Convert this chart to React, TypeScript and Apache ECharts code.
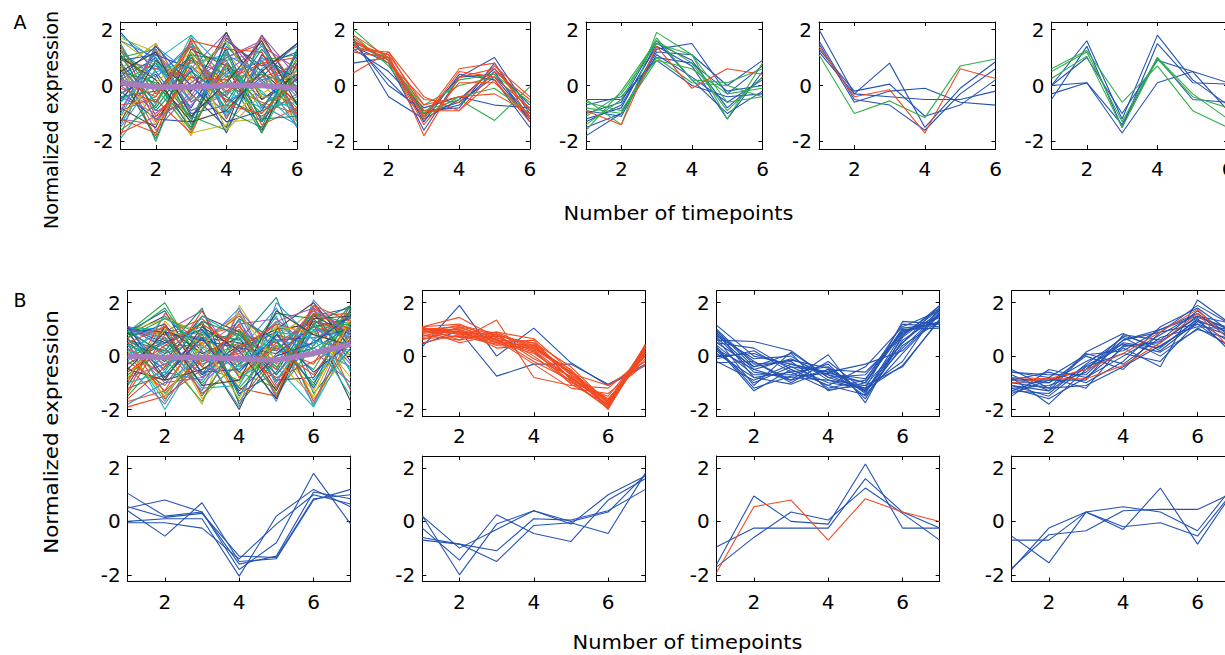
import React, { useEffect, useRef } from "react";
import * as echarts from "echarts";

// ---------- data ----------
const xA = [1, 2, 3, 4, 5, 6];
const xB = [1, 2, 3, 4, 5, 6, 7];
const xTicksA = [2, 4, 6];
const xTicksB = [2, 4, 6];
const yTicks = [-2, 0, 2];
const titleA = "A";
const titleB = "B";
const yName = "Normalized expression";
const xName = "Number of timepoints";

const BLUE = "#2453b3";
const RED = "#f24a22";
const GREEN = "#2fb04a";
const MEAN = "#a67cbf";
const MULTI = ["#2453c0", "#f0441e", "#2aa84a", "#19b4b8", "#9a5cb4", "#c9b51c", "#454545", "#118a70", "#3b8fd8", "#e0502a"];

// A1 – all genes
const a1Lines = [
  [1.9, 0.5, -1.2, 0.8, -0.5, 0.2], [-1.8, 1.5, -0.6, 0.3, 0.9, -1.0], [0.9, -2.0, 1.2, -0.3, 0.4, -0.8],
  [0.4, 0.9, 1.8, -1.0, 0.6, -1.2], [-1.2, -1.4, 0.6, 1.9, -0.8, 0.9], [1.2, 0.2, -1.8, 1.2, -0.4, -0.5],
  [-0.6, 1.2, -0.3, -1.5, 1.8, -0.3], [0.7, -0.8, 0.9, 0.4, -1.7, 1.0], [-1.5, 0.3, 1.4, -0.6, 0.2, 0.5],
  [1.5, -1.1, -0.5, 1.0, 1.5, -1.5], [0.2, 1.0, -1.0, -0.7, 0.3, 1.5], [-0.9, -0.4, 1.6, -1.2, 1.1, -0.2],
  [1.0, 1.3, -1.4, 0.2, -1.0, 0.4], [-1.9, -0.2, 0.5, 1.5, -0.3, -0.9], [0.6, -1.6, -0.2, 0.9, 1.2, -1.1],
  [1.6, 0.7, 0.2, -1.3, -1.2, 0.7], [-0.3, 0.4, -1.6, 1.7, 0.5, -0.6], [0.8, -0.6, 1.1, -0.9, -1.5, 1.3],
  [-1.1, 1.1, 0.0, 0.6, -0.7, -1.4], [1.3, -1.3, 0.7, -0.4, 1.7, -0.1], [-0.5, 0.8, -0.8, 1.3, -1.3, 0.3],
  [0.3, -1.8, 1.7, -0.1, 0.8, -0.7], [1.1, 0.0, -1.1, -1.6, 0.9, 1.1], [-1.4, 0.6, 0.8, 1.1, -0.9, -0.4],
  [0.0, -0.9, -0.7, 0.5, 1.4, 0.6], [1.7, 1.2, -0.4, -0.8, 0.1, -1.3], [-0.8, -1.5, 1.3, 0.7, -1.6, 0.8],
  [0.5, 0.1, -1.5, 1.4, 0.2, -0.9], [-1.0, 1.4, 0.4, -1.1, 1.0, 0.1], [1.4, -0.3, 1.0, 0.0, -0.6, -1.0],
  [-0.2, -1.2, -1.3, 1.6, 0.7, 1.2], [0.9, 0.6, 0.3, -0.5, -1.1, -0.3], [-1.6, -0.7, 1.5, 0.3, 0.4, 0.0],
  [1.8, 0.9, -0.9, -0.2, -0.8, -0.6], [-0.4, -1.0, 0.1, 1.0, 1.6, -1.2], [0.6, 1.5, -1.7, -1.4, 0.0, 0.9],
  [-1.3, 0.9, -0.2, 1.9, -0.5, 0.4], [0.4, -1.9, 1.0, -0.6, 1.3, -0.2], [1.2, 0.3, 1.5, -1.1, 0.6, 1.4],
  [-0.7, -0.5, -1.7, 0.8, -1.4, -0.8], [0.9, 1.1, 0.6, -1.7, 1.1, 0.2], [-1.7, -1.1, 0.3, 0.2, 0.8, 1.0],
  [0.1, 0.8, -1.2, 1.2, -1.7, 0.6], [1.5, -0.7, 1.8, 0.5, -0.2, -1.4], [-0.9, 1.3, -0.9, -0.3, 1.8, 0.3],
  [0.7, -1.4, 0.4, 1.6, -0.4, -0.5], [1.0, 0.2, -1.3, -0.9, 0.5, 1.5], [-0.4, -0.2, 1.1, 0.9, -1.2, -1.1],
  [1.6, 1.0, -0.6, 0.4, 0.9, -0.4], [-1.2, -1.7, 0.9, -0.2, 0.3, 0.7], [0.3, 1.4, 0.0, -1.3, -0.9, 1.1],
  [-0.1, -0.6, 1.6, 1.3, 1.2, -1.0], [1.3, -0.1, -1.6, 0.7, -0.7, 0.0], [-0.6, 0.5, 0.7, -0.8, 1.5, -1.3],
  [0.8, -1.2, -0.4, 1.8, 0.1, 0.8], [-1.1, 0.1, 1.2, -1.6, -0.3, 0.5], [0.5, 1.2, -1.1, 0.1, 1.6, -0.7],
  [1.1, -0.9, 0.5, -0.4, -1.3, 1.2], [-0.3, 0.7, -0.5, 1.1, 0.4, -1.5], [0.2, -0.4, 1.4, -0.7, -1.0, 0.3],
];
const a1Mean = [0.1, -0.05, -0.05, 0.0, 0.0, -0.1];

// A2
const a2Blue = [
  [1.6, 0.9, -1.0, -0.6, 0.3, -1.2], [0.8, 1.0, -1.3, 0.4, 0.2, -1.5], [1.5, 0.2, -1.1, 0.3, 1.0, -0.9],
  [1.7, -0.4, -1.2, -0.5, 0.6, -0.7], [1.3, 0.5, -0.8, -0.4, -0.7, -0.8], [1.4, 0.8, -1.6, 0.3, 0.4, -1.1],
  [1.2, 1.0, -1.0, -0.7, 0.5, -1.3], [1.6, 0.0, -0.9, -0.8, 0.8, -1.0],
];
const a2Red = [
  [1.8, 1.0, -1.1, 0.6, 0.8, -1.2], [0.45, 1.2, -0.4, -0.9, 0.5, -0.5], [1.4, 1.1, -1.8, 0.3, 0.6, -0.9],
  [1.3, 1.2, -0.9, -0.9, 0.2, -1.3], [1.7, 0.8, -0.5, -0.6, 0.7, -0.4], [1.2, 1.0, -1.2, 0.5, 0.3, -0.8],
  [1.5, 1.1, -0.7, -0.4, -0.3, -1.0], [1.6, 0.9, -1.4, 0.1, 0.1, -1.1],
];
const a2Green = [
  [2.0, 0.9, -0.9, -0.5, -1.25, -0.05], [1.6, 0.8, -0.7, 0.0, 0.3, -0.8],
  [1.4, 1.0, -1.1, -0.4, -0.1, -1.0], [1.8, 0.7, -1.0, 0.2, 0.4, -0.6],
];

// A3
const a3Blue = [
  [-1.8, -1.0, 1.3, 1.5, -0.3, 0.7], [-1.2, -0.8, 1.5, 0.9, -0.8, 0.3], [-0.5, -0.5, 1.0, 0.8, -0.2, 0.0],
  [-1.0, -0.6, 1.6, 0.2, -1.0, -0.2], [-1.5, -1.0, 1.2, 1.1, 0.0, 0.9], [-0.7, -0.4, 0.9, 0.0, -0.4, -0.3],
  [-1.3, -0.7, 1.4, 0.7, -1.2, 0.5], [-0.9, -1.1, 1.1, 0.3, -0.6, 0.2],
];
const a3Green = [
  [-0.5, -1.4, 1.9, 1.1, -0.6, -0.4], [-1.4, -0.5, 1.7, 0.2, 0.1, 0.6], [-1.1, -0.3, 1.5, 1.1, -1.2, 0.8],
  [-0.6, -0.9, 1.0, 0.1, 0.0, -0.4], [-1.6, -0.2, 1.6, 0.8, -0.9, 0.3], [-0.8, -1.0, 0.9, 0.6, -0.3, -0.1],
];
const a3Red = [[-0.9, -1.4, 1.4, -0.1, 0.6, 0.4]];

// A4
const a4Blue = [
  [2.0, -0.3, 0.8, -1.5, -0.1, 0.85], [1.5, -0.6, -0.2, -0.1, -0.6, -0.7], [1.3, -0.2, 0.05, -1.1, -0.7, 0.2],
  [1.6, -0.5, -0.7, -1.6, -0.3, 0.6], [1.2, -0.3, -0.4, -0.5, -0.5, -0.2],
];
const a4Green = [[1.1, -1.0, -0.55, -1.15, 0.7, 0.95]];
const a4Red = [[1.4, -0.4, -0.15, -1.7, 0.6, 0.25]];

// A5
const a5Blue = [
  [0.0, 1.6, -1.2, 1.8, 0.2, -0.7], [-0.5, 1.4, -1.5, 1.5, 0.1, 0.05], [0.0, 0.1, -1.7, 0.1, 0.5, -0.9],
  [-0.3, 0.1, -1.4, 1.0, -0.5, -0.6], [0.0, 1.0, -1.0, 0.9, 0.5, 0.1],
];
const a5Green = [[0.6, 1.25, -0.6, 0.7, -0.9, -1.5], [0.25, 1.05, -1.5, 0.95, -0.4, -0.8], [0.5, 1.2, -1.3, 1.0, -0.3, -1.2]];

// B1 – all genes
const b1Lines = [
  [1.0, 0.8, 0.7, 0.5, 0.2, 1.5, 1.8], [-1.9, -1.5, -0.5, 0.2, 0.9, 1.3, 1.0], [0.9, 2.0, -0.4, -0.9, 0.4, -1.0, 0.8],
  [0.5, -2.0, 0.3, 1.0, -0.5, 1.8, -0.6], [1.1, 0.9, 1.7, -0.3, 0.6, -1.8, 1.4], [-0.6, 0.2, -1.8, 1.9, -0.2, 0.5, 1.2],
  [0.8, 1.5, 0.2, -2.0, 1.0, 1.2, -1.7], [-1.2, -0.7, 0.9, 0.6, 2.2, -1.4, 0.3], [0.2, 1.0, -1.1, 0.4, -1.7, 2.1, 0.6],
  [1.0, -0.4, 0.5, 1.5, 0.3, -0.3, 1.9], [-0.3, 0.5, 1.2, -1.4, -0.6, 1.6, -0.2], [0.7, -1.6, -0.2, 0.1, 1.2, 0.8, 1.5],
  [-1.5, 0.1, 0.6, -0.6, -1.2, 1.0, 0.9], [1.05, 1.0, 0.8, 0.6, -0.4, -1.9, 1.1], [0.4, -1.0, -0.8, 1.2, 1.4, 0.2, -1.0],
  [-0.9, 1.3, 0.0, -1.0, 0.7, 1.7, 0.4], [0.6, -0.2, 1.5, 0.9, -0.9, -0.8, 1.3], [-0.1, 0.7, -1.4, -0.3, 1.6, 1.4, 0.0],
  [1.0, 0.4, 0.4, 1.8, -1.1, 0.6, 1.6], [-1.7, -1.3, 1.0, -1.7, 0.1, 1.1, 0.7], [0.9, 1.7, -0.7, 0.3, 0.9, -1.2, 1.2],
  [0.3, -0.8, 0.7, -1.2, -1.5, 1.9, 0.5], [-0.7, 0.3, -1.0, 0.8, 0.5, -0.5, 1.7], [1.1, 0.6, 1.1, -0.8, 0.0, 1.3, -0.5],
  [-0.4, -1.8, 0.3, 1.3, -0.7, 0.9, 1.4], [0.8, 0.9, -1.6, -0.1, 1.1, -1.6, 0.2], [-1.1, 1.1, 0.1, 0.7, -1.3, 1.5, 0.8],
  [0.5, -0.5, 1.3, -1.5, 0.8, 0.4, 1.9], [1.0, 0.0, -0.3, 0.2, 1.8, -0.9, 0.9], [-0.2, -1.1, 0.8, 1.1, -0.3, 1.8, -1.3],
  [0.7, 1.2, -0.6, -0.5, 0.6, 0.7, 1.0], [-1.4, 0.8, 1.4, 0.0, -0.8, -0.2, 0.6], [1.0, -1.4, 0.0, 0.9, 0.2, 1.6, 1.2],
  [0.1, 0.5, -1.2, -1.1, 1.3, 0.0, 1.6], [-0.8, -0.3, 0.6, 1.6, -1.0, 1.2, -0.3], [0.9, 1.4, 0.9, -0.7, 0.4, -1.3, 1.5],
  [-0.5, -0.9, -0.5, 0.4, 1.0, 2.0, 0.3], [0.6, 0.2, 1.8, -1.8, -0.1, 0.3, 1.1], [1.1, -0.6, -0.9, 1.4, -1.6, 1.0, 0.7],
  [-1.0, 1.6, 0.4, -0.4, 0.3, -0.7, 1.3],
  [1.0, 0.9, 0.6, 0.3, 0.1, 1.1, 1.4], [-1.6, -0.4, 1.7, -0.8, 0.5, 1.3, 0.9], [0.8, 1.8, -0.2, 0.5, -1.4, 0.4, 1.7],
  [0.3, -1.7, 0.9, -0.4, 1.5, -1.9, 0.6], [1.1, 0.3, -1.3, 1.7, 0.2, 1.7, 1.0], [-0.8, 1.0, 0.5, -1.6, 1.1, 0.9, -0.8],
  [0.9, -0.9, 1.1, 0.2, -1.6, 1.4, 1.5], [-0.3, 0.6, -0.7, 1.4, 0.6, -1.1, 1.8], [0.6, -0.3, 0.2, -1.9, 2.0, 0.6, 0.2],
  [-1.3, 1.2, -1.5, 0.5, -0.5, 1.9, 1.3], [1.05, 0.5, 1.0, -0.6, 0.8, -0.6, 0.5], [0.0, -1.3, -0.1, 1.0, -1.2, 1.5, 1.6],
  [0.7, 1.4, 0.8, -1.2, 0.4, 0.1, 1.1], [-1.0, -0.6, 1.5, 0.7, -0.9, 1.0, -1.2], [1.0, 0.7, -0.8, 0.0, 1.3, 1.8, 0.8],
  [0.2, -1.5, 0.4, 1.6, -0.2, -1.5, 1.4], [-0.5, 0.9, -1.1, -0.9, 1.7, 0.8, 0.4], [0.9, 0.1, 1.3, 0.8, -0.7, 1.2, 1.9],
  [-1.8, -1.0, 0.0, -0.2, 0.6, 0.3, -0.4], [0.5, 1.1, -0.4, 1.2, -1.5, 1.6, 1.0], [1.1, -0.8, 0.7, -1.3, 0.0, 0.5, 1.5],
  [-0.6, 0.4, 1.2, 0.3, 1.2, -1.7, 0.7], [0.4, -0.1, -1.7, 0.9, -0.4, 1.1, 1.2], [-0.2, 1.5, 0.3, -0.5, 0.9, 0.7, -1.5],
];
const b1Mean = [0.0, -0.05, -0.05, -0.1, -0.15, 0.1, 0.45];

// B2
const b2Blue = [[0.35, 1.9, 0.0, 1.05, -0.25, -1.1, -0.35], [0.45, 0.95, -0.75, -0.3, -0.3, -1.05, -0.3]];
const b2Red = [
  [1.0, 0.9, 0.8, 0.4, -0.6, -1.9, 0.3], [1.1, 1.45, 0.7, 0.2, -0.8, -1.7, 0.4], [0.8, 0.6, 1.35, -0.8, -1.1, -1.2, 0.0],
  [0.9, 1.0, 0.6, 0.5, -0.7, -1.8, 0.1], [1.05, 0.8, 0.9, 0.3, -0.5, -2.0, 0.45], [0.6, 1.1, 0.5, 0.6, -0.9, -1.6, -0.1],
  [1.0, 0.5, 0.8, 0.0, -1.0, -1.5, 0.2], [0.7, 0.9, 0.4, 0.3, -0.6, -1.9, 0.35], [1.1, 1.2, 0.6, -0.3, -1.2, -1.4, -0.3],
  [0.95, 0.7, 0.75, 0.5, -0.4, -1.75, 0.25], [0.5, 0.8, 0.5, 0.1, -0.8, -1.85, 0.4], [1.0, 1.0, 0.3, 0.4, -0.7, -1.6, 0.0],
  [0.85, 0.95, 0.65, -0.2, -0.9, -1.95, 0.3], [1.1, 0.6, 0.9, 0.65, -0.55, -1.7, 0.15], [0.75, 1.05, 0.7, 0.2, -1.05, -1.8, 0.4],
  [0.95, 0.85, 0.55, 0.35, -0.65, -1.1, -0.2], [1.0, 1.1, 0.8, -0.1, -0.75, -1.9, 0.35], [0.65, 0.75, 0.45, 0.45, -0.85, -1.65, 0.1],
  [1.05, 0.9, 0.6, 0.15, -0.95, -1.95, 0.2], [0.9, 1.15, 0.85, 0.25, -0.6, -1.75, 0.3],
];

// B3
const b3Blue = [
  [1.15, 0.0, -0.3, -0.6, -1.0, 0.9, 1.5], [0.8, -0.5, -0.1, -0.7, -1.3, 0.5, 1.9], [0.6, 0.55, 0.2, -0.8, -1.2, 1.3, 1.2],
  [0.3, -1.3, -0.5, -1.1, -0.4, 1.1, 1.7], [-0.25, -0.2, -0.9, 0.05, -1.75, 0.8, 1.8], [0.9, -0.8, -1.05, -0.5, -1.5, 0.4, 1.3],
  [0.5, -0.4, 0.1, -1.3, -1.0, 1.0, 1.05], [0.2, -1.0, -0.4, -0.6, -0.3, 0.2, 1.6], [0.7, -0.6, -0.8, -0.9, -1.1, -0.4, 1.4],
  [-0.1, 0.2, -0.6, -0.4, -1.4, 0.7, 1.75], [1.0, -0.3, -0.2, -1.2, -0.9, 1.2, 1.1], [0.4, -0.7, -0.7, -0.3, -1.6, 0.6, 1.5],
  [0.0, 0.1, -0.4, -1.0, -1.2, -0.2, 1.85], [0.65, -1.1, 0.15, -0.8, -0.7, 0.9, 1.3], [0.85, -0.2, -1.0, -0.2, -1.3, 0.3, 1.65],
  [-0.2, -0.9, -0.3, -0.7, -1.0, 1.05, 1.2], [0.5, 0.3, -0.5, -1.1, -1.45, 0.1, 1.55], [0.25, -0.5, -0.9, -0.5, -0.6, 0.75, 1.9],
  [0.75, -0.1, 0.0, -0.9, -1.25, -0.35, 1.35], [0.1, -0.8, -0.6, -1.25, -1.1, 0.5, 1.7], [0.95, -0.4, -0.15, -0.45, -1.35, 0.85, 1.45],
  [0.35, -1.2, -0.75, -0.65, -0.85, 0.95, 1.25],
];

// B4
const b4Blue = [
  [-0.5, -1.2, 0.15, 0.85, 0.2, 1.3, 0.9], [-0.8, -1.8, -0.5, 0.6, 1.0, 1.6, 0.5], [-1.5, -0.5, -0.8, 0.3, -0.4, 2.1, 1.1],
  [-1.0, -1.0, 0.0, -0.5, 0.9, 1.2, 0.7], [-0.6, -0.8, -1.2, 0.4, 0.5, 1.5, 1.2], [-1.3, -1.4, -0.3, 0.7, 0.0, 1.05, 0.3],
  [-0.9, -0.6, -1.0, -0.2, 1.1, 1.8, 0.8], [-1.2, -1.1, -0.6, 0.5, 0.3, 1.4, 0.0], [-0.7, -1.3, 0.1, -0.3, 0.7, 1.1, 1.0],
  [-1.4, -0.9, -0.9, 0.8, 0.6, 1.7, 0.6], [-1.1, -1.5, -0.4, 0.1, -0.2, 1.3, 0.4], [-0.6, -0.7, -0.7, 0.6, 0.9, 1.9, 1.1],
  [-1.0, -1.2, -1.1, -0.4, 0.4, 1.2, 0.2], [-1.3, -0.8, 0.05, 0.2, 1.0, 1.5, 0.9], [-0.8, -1.0, -0.2, 0.45, 0.15, 1.0, 0.6],
  [-1.2, -1.6, -0.8, 0.0, 0.8, 1.6, 0.5], [-0.9, -0.9, -0.5, 0.75, 0.35, 1.35, 0.8], [-1.1, -1.3, -0.35, 0.35, 0.55, 1.45, 1.0],
];
const b4Red = [[-0.8, -0.85, -0.5, 0.1, 0.9, 1.75, 0.4], [-1.0, -0.85, -0.85, -0.35, 0.5, 1.6, 0.1]];

// B5..B8
const b5Blue = [
  [1.05, 0.2, 0.35, -1.6, -1.3, 1.1, 0.85], [0.5, 0.8, 0.35, -1.8, -0.8, 1.8, -0.1], [0.4, -0.55, 0.7, -1.5, -1.4, 0.8, 1.2],
  [0.0, 0.1, 0.1, -2.05, 0.2, 1.2, 0.55], [-0.05, -0.05, -0.25, -1.4, -0.1, 1.0, 0.65], [0.55, 0.15, 0.3, -1.3, -1.35, 0.85, 1.0],
];
const b6Blue = [
  [0.2, -1.0, -0.3, 0.4, -0.1, 1.0, 1.7], [0.2, -2.0, -0.1, 0.4, 0.0, 0.35, 1.75], [-0.25, -1.45, 0.25, -0.45, -0.75, 0.8, 1.6],
  [-0.6, -0.85, -1.1, 0.1, 0.05, 0.4, 1.2], [-0.7, -0.85, -1.5, -0.15, -0.05, -0.45, 1.8],
];
const b7Blue = [
  [-1.6, 0.95, 0.0, -0.1, 2.15, -0.25, -0.25], [-0.95, -0.25, -0.25, -0.25, 1.6, 0.35, -0.25], [-1.7, -0.6, 0.35, 0.05, 1.25, 0.3, -0.7],
];
const b7Red = [[-1.9, 0.55, 0.8, -0.7, 0.85, 0.35, 0.0]];
const b8Blue = [
  [-0.55, -1.55, 0.35, 0.55, 0.35, -0.35, 1.4], [-0.7, -0.7, 0.35, -0.3, 1.25, -0.85, 1.2],
  [-1.8, -0.25, 0.35, -0.2, -0.05, -0.55, 1.2], [-1.75, -0.5, -0.35, 0.4, 0.45, 0.45, 1.1],
];

// ---------- layout ----------
type LineGroup = { lines: number[][]; color?: string; multi?: boolean; width?: number };
type Panel = { left: number; top: number; width: number; height: number; xs: number[]; xTicks: number[]; yMin: number; yMax: number; groups: LineGroup[] };

const aLefts = [120.5, 353.3, 586, 819, 1051.5];
const bLefts = [127.7, 422.3, 716.7, 1011.7];

const panelsA: LineGroup[][] = [
  [{ lines: a1Lines, multi: true }, { lines: [a1Mean], color: MEAN, width: 5.5 }],
  [{ lines: a2Blue, color: BLUE }, { lines: a2Green, color: GREEN }, { lines: a2Red, color: RED }],
  [{ lines: a3Blue, color: BLUE }, { lines: a3Green, color: GREEN }, { lines: a3Red, color: RED }],
  [{ lines: a4Blue, color: BLUE }, { lines: a4Green, color: GREEN }, { lines: a4Red, color: RED }],
  [{ lines: a5Blue, color: BLUE }, { lines: a5Green, color: GREEN }],
];
const panelsB: LineGroup[][] = [
  [{ lines: b1Lines, multi: true }, { lines: [b1Mean], color: MEAN, width: 5.5 }],
  [{ lines: b2Blue, color: BLUE }, { lines: b2Red, color: RED }],
  [{ lines: b3Blue, color: BLUE }],
  [{ lines: b4Blue, color: BLUE }, { lines: b4Red, color: RED }],
  [{ lines: b5Blue, color: BLUE }],
  [{ lines: b6Blue, color: BLUE }],
  [{ lines: b7Blue, color: BLUE }, { lines: b7Red, color: RED }],
  [{ lines: b8Blue, color: BLUE }],
];

const panels: Panel[] = [
  ...panelsA.map((g, i) => ({ left: aLefts[i], top: 22, width: 176.5, height: 127, xs: xA, xTicks: xTicksA, yMin: -2.27, yMax: 2.27, groups: g })),
  ...panelsB.map((g, i) => ({
    left: bLefts[i % 4], top: i < 4 ? 290.7 : 456, width: 223, height: 125.5, xs: xB, xTicks: xTicksB, yMin: -2.25, yMax: 2.45, groups: g,
  })),
];

const FONT = "DejaVu Sans, Liberation Sans, Arial, sans-serif";

function buildOption() {
  const grid: any[] = [];
  const xAxis: any[] = [];
  const yAxis: any[] = [];
  const series: any[] = [];
  panels.forEach((p, gi) => {
    grid.push({ left: p.left, top: p.top, width: p.width, height: p.height, containLabel: false, outerBoundsMode: "none" });
    const xMax = p.xs[p.xs.length - 1];
    const common = { type: "value", gridIndex: gi, splitLine: { show: false }, axisLine: { show: true, onZero: false, lineStyle: { color: "#000", width: 1 } } };
    xAxis.push({
      ...common, position: "bottom", min: 1, max: xMax,
      axisTick: { show: true, inside: true, length: 4, customValues: p.xTicks, lineStyle: { color: "#000" } },
      axisLabel: { show: true, customValues: p.xTicks, fontSize: 20, fontFamily: FONT, color: "#000", margin: 10 },
    });
    xAxis.push({
      ...common, position: "top", min: 1, max: xMax,
      axisTick: { show: true, inside: true, length: 4, customValues: p.xTicks, lineStyle: { color: "#000" } },
      axisLabel: { show: false },
    });
    yAxis.push({
      ...common, position: "left", min: p.yMin, max: p.yMax,
      axisTick: { show: true, inside: true, length: 4, customValues: yTicks, lineStyle: { color: "#000" } },
      axisLabel: { show: true, customValues: yTicks, fontSize: 20, fontFamily: FONT, color: "#000", margin: 7 },
    });
    yAxis.push({
      ...common, position: "right", min: p.yMin, max: p.yMax,
      axisTick: { show: true, inside: true, length: 4, customValues: yTicks, lineStyle: { color: "#000" } },
      axisLabel: { show: false },
    });
    let k = 0;
    p.groups.forEach((g) => {
      g.lines.forEach((vals) => {
        const color = g.multi ? MULTI[k % MULTI.length] : g.color;
        k++;
        series.push({
          type: "line", xAxisIndex: 2 * gi, yAxisIndex: 2 * gi, symbol: "none", silent: true,
          data: vals.map((v, i) => [p.xs[i], v]),
          lineStyle: { color, width: g.width ?? 1.1 }, itemStyle: { color },
        });
      });
    });
  });

  const txt = (text: string, x: number, y: number, size: number, extra: any = {}) => ({
    type: "text", x, y, silent: true, ...extra,
    style: { text, fontSize: size, fontFamily: FONT, fill: "#000", textAlign: "center", textVerticalAlign: "middle", align: "center", verticalAlign: "middle" },
  });

  const graphic = [
    txt(titleA, 20, 22, 19),
    txt(titleB, 20, 300, 19),
    txt(yName, 51, 120, 20, { rotation: Math.PI / 2, scaleX: 0.96 }),
    txt(yName, 51, 432, 20, { rotation: Math.PI / 2, scaleX: 1.07 }),
    txt(xName, 678.5, 213, 20, { scaleX: 1.05 }),
    txt(xName, 687.5, 642, 20, { scaleX: 1.05 }),
  ];

  return { animation: false, backgroundColor: "#fff", grid, xAxis, yAxis, series, graphic };
}

export default function App() {
  const ref = useRef<HTMLDivElement>(null);
  useEffect(() => {
    if (!ref.current) return;
    const chart = echarts.init(ref.current, undefined, { renderer: "svg" });
    chart.setOption(buildOption() as any);
    return () => chart.dispose();
  }, []);
  return <div ref={ref} style={{ position: "absolute", left: 0, top: 0, width: 1225, height: 655 }} />;
}
